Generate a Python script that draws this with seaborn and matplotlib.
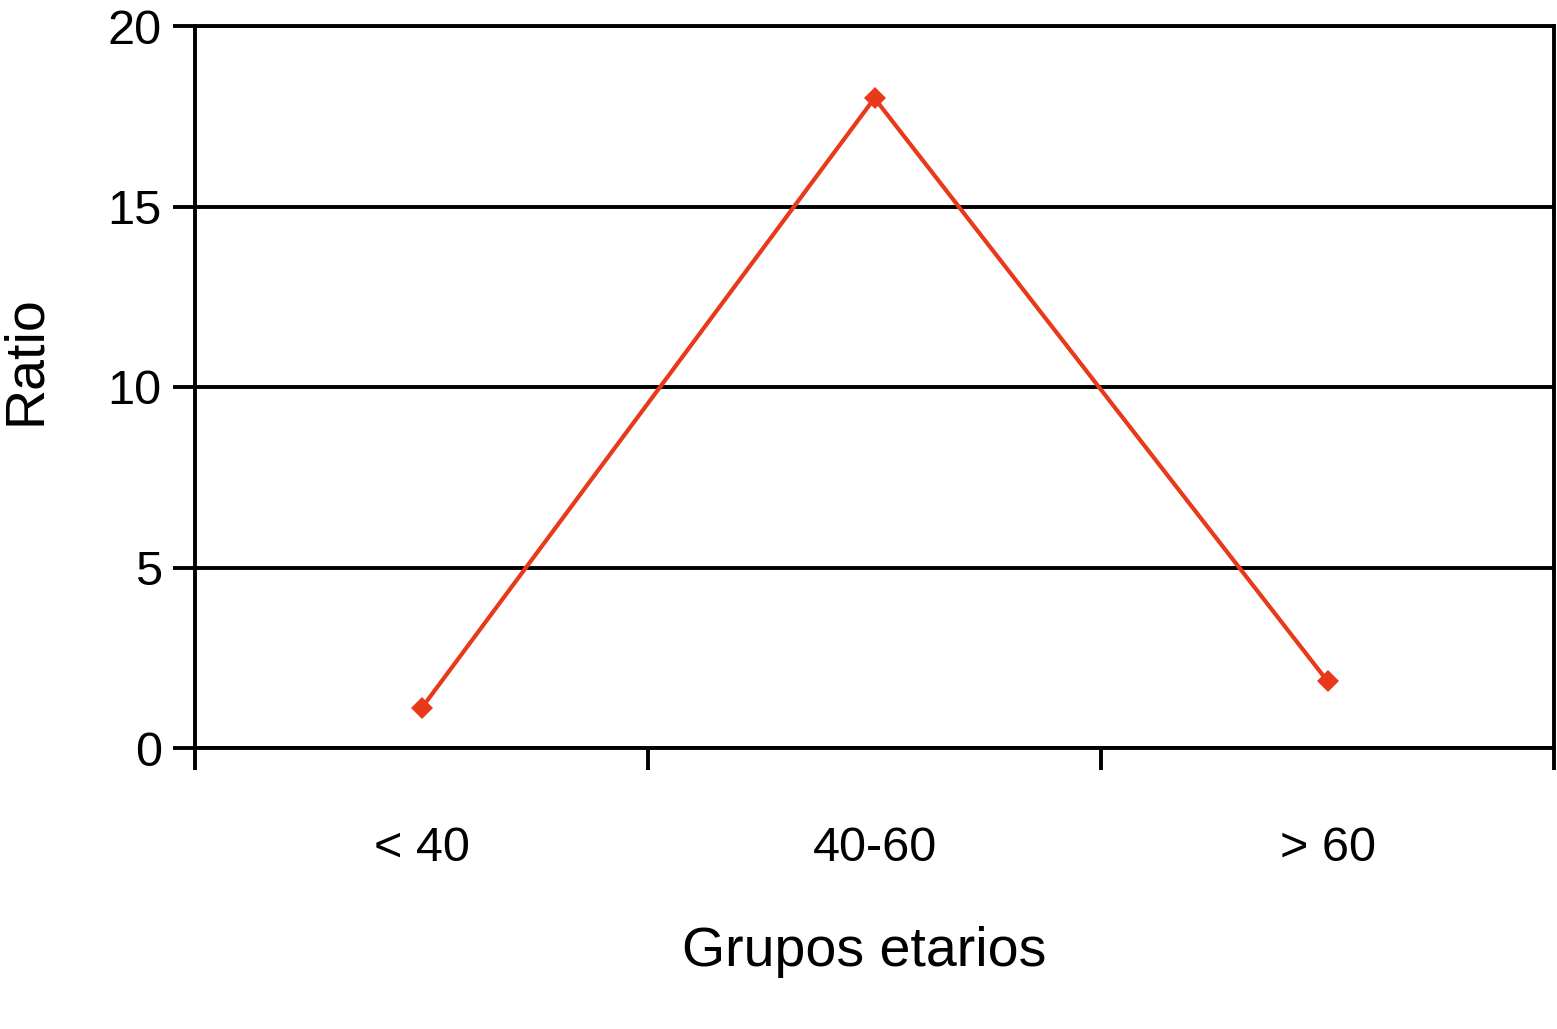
import matplotlib
matplotlib.use("Agg")
import matplotlib.pyplot as plt
import seaborn as sns
import pandas as pd
from matplotlib.ticker import FixedLocator

categories = ["< 40", "40-60", "> 60"]
ratio_values = [1.1, 18.0, 1.85]
y_ticks = [0, 5, 10, 15, 20]

sns.set_theme(style="white")
plt.rcParams["font.family"] = ["Liberation Sans", "DejaVu Sans"]

df = pd.DataFrame({"grupo": categories, "ratio": ratio_values})

fig = plt.figure(figsize=(15.57, 10.29), dpi=100)
ax = fig.add_axes([195/1557, 1-748/1029, (1554-195)/1557, (748-26)/1029])

sns.lineplot(data=df, x="grupo", y="ratio", ax=ax, color="#E8391A",
             linewidth=3.0, marker="D", markersize=11, markeredgewidth=0,
             sort=False)

ax.set_xlim(-0.5, len(categories) - 0.5)
ax.set_ylim(0, 20)
ax.set_yticks(y_ticks)
ax.set_yticklabels([str(t) for t in y_ticks])
ax.yaxis.grid(True, color="black", linewidth=2.8)
ax.xaxis.grid(False)
ax.set_axisbelow(True)

ax.xaxis.set_minor_locator(FixedLocator([i - 0.5 for i in range(len(categories) + 1)]))
ax.tick_params(axis="x", which="major", length=0, pad=56, labelsize=35, colors="black")
ax.tick_params(axis="x", which="minor", length=16, width=2.8, direction="out",
               color="black", bottom=True)
ax.tick_params(axis="y", which="major", length=16, width=2.8, direction="out",
               color="black", left=True, pad=8, labelsize=35, labelcolor="black")

for s in ax.spines.values():
    s.set_visible(True)
    s.set_color("black")
    s.set_linewidth(2.8)

ax.set_xlabel("Grupos etarios", fontsize=40, labelpad=40, color="black")
ax.set_ylabel("Ratio", fontsize=40, labelpad=40, color="black")
ax.xaxis.label.set_x(0.4926)
ax.yaxis.label.set_y(0.537)

fig.savefig("out.png", dpi=100, facecolor="white")
